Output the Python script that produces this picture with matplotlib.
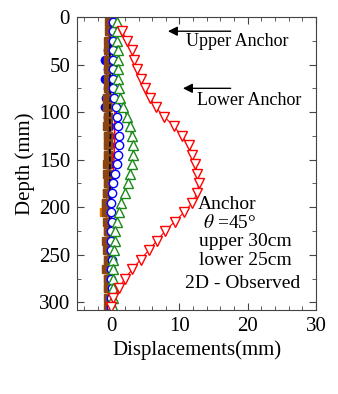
import matplotlib

matplotlib.use("Agg")
import matplotlib.pyplot as plt
from matplotlib.ticker import MultipleLocator

plt.rcParams["font.family"] = ["Liberation Serif", "DejaVu Serif"]
plt.rcParams["mathtext.fontset"] = "stix"

# depth of the measuring points (mm), one every 10 mm
DEPTH = [5, 15, 25, 35, 45, 55, 65, 75, 85, 95, 105, 115, 125, 135, 145, 155,
         165, 175, 185, 195, 205, 215, 225, 235, 245, 255, 265, 275, 285, 295, 305]

# largest stage (open red inverted triangles), starts at 15 mm
RED_TRI_DEPTH = DEPTH[1:]
RED_TRI = [1.6, 2.3, 3.0, 3.3, 3.8, 4.3, 5.0, 5.7, 6.5, 7.8, 9.2, 10.3, 11.4, 11.9,
           12.3, 12.6, 12.8, 12.6, 11.9, 10.7, 9.3, 7.9, 6.7, 5.5, 4.3, 3.1, 2.0, 1.1,
           0.3, 0.0]
GREEN_TRI = [0.8, 0.9, 0.9, 1.0, 1.0, 1.0, 1.0, 1.1, 1.3, 1.8, 2.3, 2.7, 3.0, 3.2,
             3.2, 3.1, 2.8, 2.4, 2.0, 1.5, 1.1, 0.8, 0.6, 0.5, 0.4, 0.3, 0.3, 0.2,
             0.2, 0.2, 0.2]
BLUE_CIRC = [0.3, 0.3, 0.2, 0.2, 0.2, 0.2, 0.2, 0.3, 0.4, 0.7, 0.9, 1.0, 1.1, 1.1,
             1.0, 0.8, 0.5, 0.3, 0.1, 0.0, 0.0, 0.1, -0.1, -0.1, 0.0, 0.1, -0.1,
             -0.1, 0.1, 0.0, 0.0]
RED_LINE = [0.2, 0.3, 0.2, 0.3, 0.3, 0.4, 0.4, 0.4, 0.5, 0.5, 0.6, 0.5, 0.5, 0.5,
            0.4, 0.4, 0.3, 0.2, 0.1, 0.1, 0.0, -0.1, 0.0, 0.0, 0.1, -0.1, 0.0, 0.1,
            0.0, 0.0, 0.0]
BLACK_LINE = [-0.1, -0.1, -0.1, -0.2, -0.2, -0.1, -0.2, -0.2, -0.1, -0.2, -0.2,
              -0.2, -0.1, -0.2, -0.2, -0.2, -0.2, -0.2, -0.1, -0.2, -0.2, -0.2,
              -0.2, -0.1, -0.2, -0.2, -0.2, -0.1, -0.1, -0.1, -0.1]
BROWN_SQ = [-0.3, -0.3, -0.4, -0.4, -0.5, -0.5, -0.5, -0.4, -0.6, -0.6, -0.5, -0.6,
            -0.5, -0.5, -0.5, -0.6, -0.6, -0.5, -0.6, -0.7, -0.8, -0.6, -0.5, -0.7,
            -0.6, -0.5, -0.7, -0.5, -0.5, -0.4, -0.5]
ORANGE_SQ = [-0.2, -0.2, -0.3, -0.3, -0.3, -0.3, -0.3, -0.3, -0.4, -0.4, -0.4,
             -0.4, -0.4, -0.4, -0.4, -0.4, -0.5, -0.5, -0.6, -0.7, -1.0, -0.5,
             -0.4, -0.5, -0.5, -0.4, -0.5, -0.4, -0.4, -0.3, -0.3]
BLUE_DOT = [-0.2, -0.2, -0.3, -0.4, -0.9, -0.5, -0.9, -0.5, -0.8, -0.9, -0.4,
            -0.3, -0.3, -0.3, -0.3, -0.3, -0.3, -0.3, -0.3, -0.3, -0.3, -0.3,
            -0.3, -0.3, -0.3, -0.3, -0.3, -0.3, -0.3, -0.3, -0.3]

fig = plt.figure(figsize=(3.38, 3.94), dpi=100)
ax = fig.add_axes([0.228, 0.213, 0.707, 0.744])

ms = 6.0
ax.plot(ORANGE_SQ, DEPTH, marker="s", ms=ms, color="#e07800", lw=0.6, mec="#e07800")
ax.plot(BLUE_DOT, DEPTH, marker="o", ms=ms, color="#0000ee", lw=0.6)
ax.plot(BROWN_SQ, DEPTH, marker="s", ms=ms, color="#8b4513", lw=0.6, mec="#8b4513")
ax.plot(BLACK_LINE, DEPTH, color="black", lw=1.2, ls=(0, (3, 1.5)))
ax.plot(RED_LINE, DEPTH, color="red", lw=1.2, marker="o", ms=2.5)
ax.plot(BLUE_CIRC, DEPTH, marker="o", ms=ms, color="blue", mfc="white", mec="blue",
        mew=1.0, lw=0.8)
ax.plot(GREEN_TRI, DEPTH, marker="^", ms=ms + 0.5, color="#1a8a1a", mfc="white",
        mec="#1a8a1a", mew=1.0, lw=0.8)
ax.plot(RED_TRI, RED_TRI_DEPTH, marker="v", ms=ms + 0.5, color="red", mfc="white",
        mec="red", mew=1.0, lw=0.8)

ax.set_xlim(-5, 30)
ax.set_ylim(308, 0)
ax.xaxis.set_major_locator(MultipleLocator(10))
ax.xaxis.set_minor_locator(MultipleLocator(2))
ax.yaxis.set_major_locator(MultipleLocator(50))
ax.yaxis.set_minor_locator(MultipleLocator(25))
ax.tick_params(which="both", direction="in", top=True, right=True, labelsize=15,
               color="#444444", pad=5)
ax.tick_params(which="major", length=5)
ax.tick_params(which="minor", length=3)
for spine in ax.spines.values():
    spine.set_color("#444444")
ax.set_xlabel("Displacements(mm)", fontsize=15, labelpad=3)
ax.set_ylabel("Depth (mm)", fontsize=15, labelpad=3)

arrow = dict(arrowstyle="-|>", color="black", lw=1.0, mutation_scale=14)
ax.annotate("", xy=(7.9, 15), xytext=(17.9, 15), arrowprops=arrow)
ax.text(10.9, 26, "Upper Anchor", fontsize=13, va="center", ha="left")
ax.annotate("", xy=(10.1, 75), xytext=(17.9, 75), arrowprops=arrow)
ax.text(12.6, 88, "Lower Anchor", fontsize=13, va="center", ha="left")

ax.text(17.0, 197, "Anchor", fontsize=14, va="center", ha="center")
ax.text(17.4, 216, r"$\theta$ =45°", fontsize=14, va="center", ha="center")
ax.text(19.6, 236, "upper 30cm", fontsize=14, va="center", ha="center")
ax.text(19.6, 256, "lower 25cm", fontsize=14, va="center", ha="center")
ax.text(19.3, 280, "2D - Observed", fontsize=14, va="center", ha="center")

fig.savefig("out.png", dpi=100)
